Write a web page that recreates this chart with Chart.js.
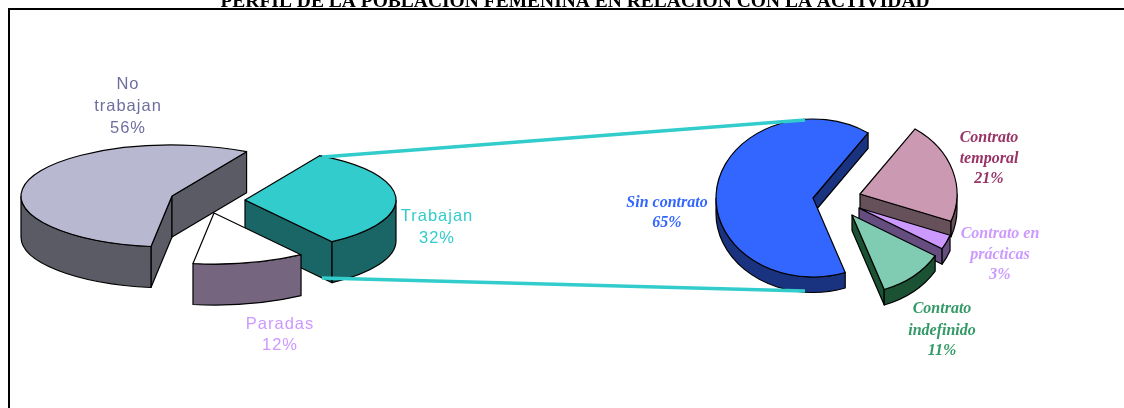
<!DOCTYPE html>
<html><head><meta charset="utf-8">
<script src="https://cdn.jsdelivr.net/npm/chart.js@4"></script>
<style>html,body{margin:0;padding:0;background:#fff;overflow:hidden}
canvas{position:absolute;left:0;top:0}</style></head>
<body>
<canvas id="main" width="1124" height="408"></canvas>
<canvas id="detail" width="1124" height="408"></canvas>
<script>
const titleText = "PERFIL DE LA POBLACIÓN FEMENINA EN RELACIÓN CON LA ACTIVIDAD";
const mainCategories = ["Trabajan","Paradas","No trabajan"];
const mainValues = [32,12,56];
const mainTop = ["#33CCCC","#FFFFFF","#B8B8D0"];
const mainWall = ["#1A6666","#75657F","#5B5B66"];
const mainPull = [[73,4],[42,17],[0,0]];
const mainOrder = [2,0,1];
const mainLabels = [
  {lines:["Trabajan","32%"],x:437,y:[216,238],color:"#33CCCC"},
  {lines:["Paradas","12%"],x:280,y:[324,345],color:"#CC99FF"},
  {lines:["No","trabajan","56%"],x:128,y:[84,106,128],color:"#6E6E9E"}];
const detailCategories = ["Contrato temporal","Contrato en prácticas","Contrato indefinido","Sin contrato"];
const detailValues = [21,3,11,65];
const detailTop = ["#CC99B3","#CC99FF","#80CCB3","#3366FF"];
const detailWall = ["#66505A","#664D80","#1A5233","#1A3380"];
const detailPull = [[47,-4],[46,10],[39,17],[0,0]];
const detailOrder = [3,0,1,2];
const detailLabels = [
  {lines:["Contrato","temporal","21%"],x:989,y:[138,159,179],color:"#993366"},
  {lines:["Contrato en","prácticas","3%"],x:1000,y:[234,255,275],color:"#CC99FF"},
  {lines:["Contrato","indefinido","11%"],x:942,y:[309,331,351],color:"#339966"},
  {lines:["Sin contrato","65%"],x:667,y:[203,223],color:"#3366FF"}];
const connectors = [[322,157,805,120],[322,278,805,291]];

function drawSlice(ctx, arc, tilt, depth, top, wall, pull){
  const {startAngle:a0,endAngle:a1,outerRadius:r,x,y} = arc.getProps(['startAngle','endAngle','outerRadius','x','y'],true);
  const cx=x+pull[0], cy=y+pull[1], rx=r, ry=r*tilt;
  const px=a=>cx+Math.cos(a)*rx, py=a=>cy+Math.sin(a)*ry;
  ctx.lineWidth=1.2; ctx.strokeStyle="#000"; ctx.lineJoin="round";
  const face=a=>{ctx.beginPath();ctx.moveTo(cx,cy);ctx.lineTo(px(a),py(a));ctx.lineTo(px(a),py(a)+depth);ctx.lineTo(cx,cy+depth);ctx.closePath();ctx.fillStyle=wall;ctx.fill();ctx.stroke();};
  if(Math.cos(a0)<0) face(a0);
  if(Math.cos(a1)>0) face(a1);
  for(let k=-1;k<=1;k++){
    const lo=Math.max(a0,2*Math.PI*k), hi=Math.min(a1,2*Math.PI*k+Math.PI);
    if(hi>lo){
      ctx.beginPath();
      ctx.ellipse(cx,cy,rx,ry,0,lo,hi,false);
      ctx.ellipse(cx,cy+depth,rx,ry,0,hi,lo,true);
      ctx.closePath();ctx.fillStyle=wall;ctx.fill();ctx.stroke();
    }
  }
  ctx.beginPath();ctx.moveTo(cx,cy);ctx.ellipse(cx,cy,rx,ry,0,a0,a1,false);ctx.closePath();
  ctx.fillStyle=top;ctx.fill();ctx.stroke();
}
const tiltPlugin = {
  id:'tilt3d',
  beforeDatasetDraw(chart,args,o){
    const ctx=chart.ctx, arcs=chart.getDatasetMeta(args.index).data;
    ctx.save();
    o.order.forEach(i=>drawSlice(ctx,arcs[i],o.tilt,o.depth,o.top[i],o.wall[i],o.pull[i]));
    ctx.restore();
    return false;
  },
  afterDraw(chart,args,o){
    const ctx=chart.ctx;
    ctx.save();
    ctx.textAlign="center";ctx.textBaseline="middle";
    ctx.font=o.font;ctx.letterSpacing=o.spacing;
    o.labels.forEach(l=>{ctx.fillStyle=l.color;l.lines.forEach((t,i)=>ctx.fillText(t,l.x,l.y[i]));});
    if(o.connectors){
      ctx.strokeStyle="#33CCCC";ctx.lineWidth=3.3;
      o.connectors.forEach(c=>{ctx.beginPath();ctx.moveTo(c[0],c[1]);ctx.lineTo(c[2],c[3]);ctx.stroke();});
    }
    ctx.restore();
  },
  beforeDraw(chart,args,o){
    if(!o.frame) return;
    const ctx=chart.ctx;
    ctx.save();
    ctx.fillStyle="#000";
    ctx.fillRect(8,8,1116,2);ctx.fillRect(8,8,2,400);
    ctx.font="bold 19.5px 'Liberation Serif'";ctx.textAlign="center";ctx.textBaseline="alphabetic";
    ctx.fillText(titleText,575,7);
    ctx.restore();
  }
};
function build(id,cats,vals,rotation,padding,plugOpts){
  return new Chart(document.getElementById(id),{
    type:'pie',
    data:{labels:cats,datasets:[{data:vals,backgroundColor:plugOpts.top,borderWidth:0,rotation}]},
    plugins:[tiltPlugin],
    options:{responsive:false,animation:false,layout:{padding},
      plugins:{legend:{display:false},tooltip:{enabled:false},title:{display:false},tilt3d:plugOpts}}
  });
}
build('main',mainCategories,mainValues,29.6,{left:21,right:801,top:45,bottom:61},
  {tilt:51/151,depth:41,top:mainTop,wall:mainWall,pull:mainPull,order:mainOrder,labels:mainLabels,font:"16.5px 'Liberation Sans'",spacing:"1px",frame:true});
build('detail',detailCategories,detailValues,34.6,{left:716,right:214,top:101,bottom:113},
  {tilt:79/97,depth:15.5,top:detailTop,wall:detailWall,pull:detailPull,order:detailOrder,labels:detailLabels,font:"italic bold 16px 'Liberation Serif'",spacing:"0px",connectors,frame:false});
</script>
</body></html>
